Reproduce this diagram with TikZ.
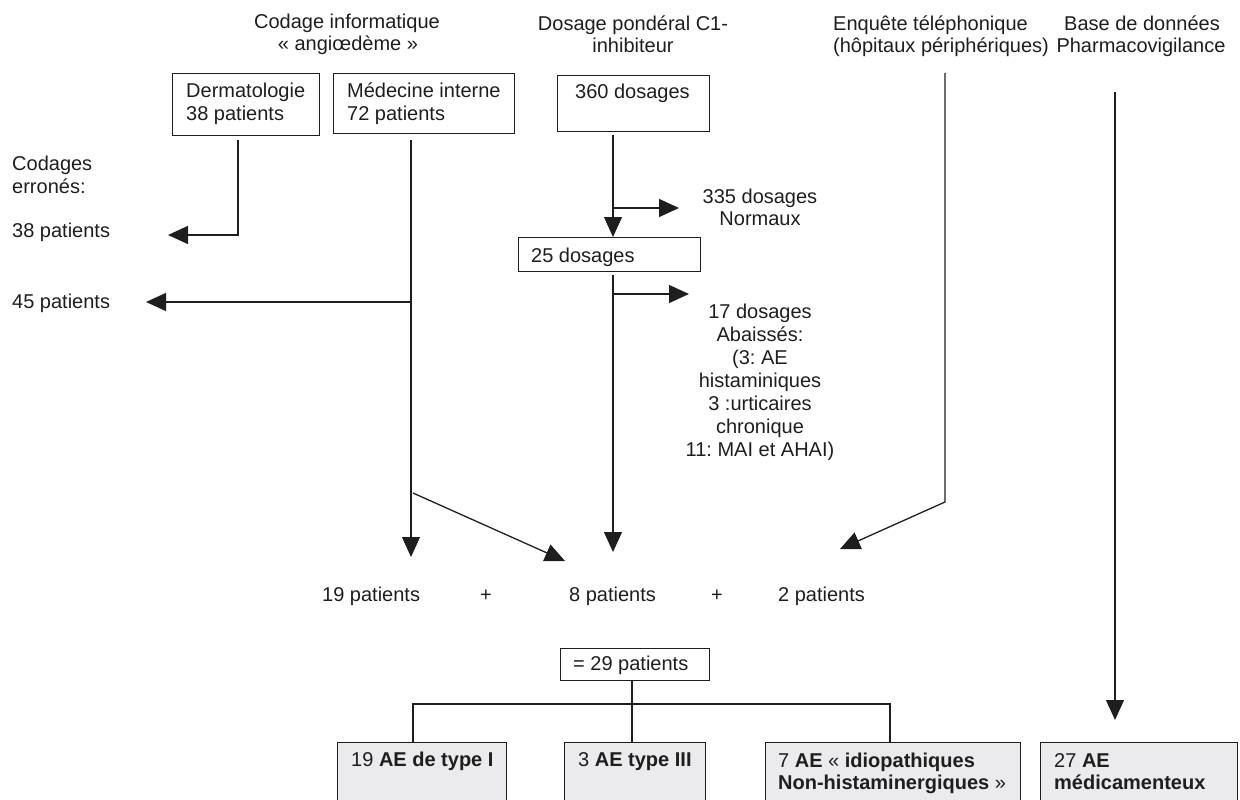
\documentclass[tikz,border=0pt]{standalone}
\usepackage{fontspec}
\setmainfont{Liberation Sans}
\usetikzlibrary{arrows.meta,calc}
\definecolor{ink}{HTML}{1E1E1E}
\definecolor{boxgray}{HTML}{EBEBED}
\frenchspacing
\begin{document}
\begin{tikzpicture}[x=1pt,y=-1pt,
  lbl/.style={inner sep=0pt, anchor=base west, text=ink, font=\fontsize{20}{23}\selectfont},
  lblc/.style={lbl, anchor=base},
  box/.style={draw=ink, line width=1.3pt, anchor=north west, inner sep=0pt},
  graybox/.style={box, fill=boxgray},
  conn/.style={draw=ink, line width=1.3pt},
  arr/.style={conn, -{Triangle[length=20pt,width=18pt]}}]
\useasboundingbox (0,0) rectangle (1240,800);
\clip (0,0) rectangle (1240,800);

% headers
\node[lblc] (h1a) at (347,29) {Codage informatique};
\node[lblc] (h1b) at (348,51) {« angiœdème »};
\node[lblc] (h2a) at (633,31) {Dosage pondéral C1-};
\node[lblc] (h2b) at (633,53) {inhibiteur};
\node[lbl] (h3a) at (833,31) {Enquête téléphonique};
\node[lbl] (h3b) at (833,53) {(hôpitaux périphériques)};
\node[lblc] (h4a) at (1142,31) {Base de données};
\node[lblc] (h4b) at (1141,53) {Pharmacovigilance};

% boxes
\node[box, minimum width=147pt, minimum height=62pt] (derm) at (172,73) {};
\node[box, minimum width=181pt, minimum height=60pt] (med) at (333,73) {};
\node[box, minimum width=152pt, minimum height=56pt] (c1b) at (557,75) {};
\node[box, minimum width=182pt, minimum height=34pt] (b25) at (518,237) {};
\node[box, minimum width=149pt, minimum height=32pt] (b29) at (560,648) {};
\node[graybox, minimum width=169pt, minimum height=90pt] (r1) at (337,742) {};
\node[graybox, minimum width=141pt, minimum height=90pt] (r2) at (564,742) {};
\node[graybox, minimum width=255pt, minimum height=90pt] (r3) at (765,742) {};
\node[graybox, minimum width=197pt, minimum height=90pt] (r4) at (1040,742) {};

% box texts
\node[lbl] (dermT1) at ($(derm.north west)+(14,25)$) {Dermatologie};
\node[lbl] (dermT2) at ($(derm.north west)+(14,48)$) {38 patients};
\node[lbl] (medT1) at ($(med.north west)+(14,25)$) {Médecine interne};
\node[lbl] (medT2) at ($(med.north west)+(14,48)$) {72 patients};
\node[lbl] (c1T) at ($(c1b.north west)+(18,24)$) {360 dosages};
\node[lbl] (b25T) at ($(b25.north west)+(13,25)$) {25 dosages};
\node[lbl] (b29T) at ($(b29.north west)+(13,22)$) {= 29 patients};
\node[lbl] (r1T) at ($(r1.north west)+(14,24)$) {19 \textbf{AE de type I}};
\node[lbl] (r2T) at ($(r2.north west)+(14,24)$) {3 \textbf{AE type III}};
\node[lbl] (r3T1) at ($(r3.north west)+(13,25)$) {7 \textbf{AE} « \textbf{idiopathiques}};
\node[lbl] (r3T2) at ($(r3.north west)+(13,47)$) {\textbf{Non-histaminergiques} »};
\node[lbl] (r4T1) at ($(r4.north west)+(14,25)$) {27 \textbf{AE}};
\node[lbl] (r4T2) at ($(r4.north west)+(14,47)$) {\textbf{médicamenteux}};

% left texts
\node[lbl] (cod1) at (12,170) {Codages};
\node[lbl] (cod2) at (12,193) {erronés:};
\node[lbl] (p38) at (12,237) {38 patients};
\node[lbl] (p45) at (12,308) {45 patients};

% middle texts
\node[lblc] (n335a) at (760,203) {335 dosages};
\node[lblc] (n335b) at (760,225) {Normaux};
\node[lblc] (n171) at (760,318) {17 dosages};
\node[lblc] (n172) at (760,341) {Abaissés:};
\node[lblc] (n173) at (760,364) {(3: AE};
\node[lblc] (n174) at (760,387) {histaminiques};
\node[lblc] (n175) at (760,410) {3 :urticaires};
\node[lblc] (n176) at (760,433) {chronique};
\node[lblc] (n177) at (760,456) {11: MAI et AHAI)};

\node[lbl] (p19) at (322,601) {19 patients};
\node[lblc] (plus1) at (486,601) {+};
\node[lbl] (p8) at (569,601) {8 patients};
\node[lblc] (plus2) at (717,601) {+};
\node[lbl] (p2) at (778,601) {2 patients};

% connector points
\coordinate (dA) at (238,140);
\coordinate (dB) at (238,235);
\coordinate (dC) at (168,235);
\coordinate (mA) at (411,140);
\coordinate (mB) at (411,557);
\coordinate (mH) at (411,302);
\coordinate (mHe) at (146,302);
\coordinate (mD) at (413,493);
\coordinate (mDe) at (565,561);
\coordinate (cA) at (613,135);
\coordinate (cH) at (613,208);
\coordinate (cHe) at (679,208);
\coordinate (cC) at (613,275);
\coordinate (cD) at (613,552);
\coordinate (cH2) at (613,294);
\coordinate (cH2e) at (689,294);
\coordinate (eA) at (945,73);
\coordinate (eB) at (945,502);
\coordinate (eC) at (840,549);
\coordinate (pA) at (1115,92);
\coordinate (pB) at (1115,720);
\coordinate (st) at (632,704);
\coordinate (t1) at (413,704);
\coordinate (t3) at (890,704);

\draw[arr] (dA) -- (dB) -- (dC);
\draw[arr] (mA) -- (mB);
\draw[arr] (mH) -- (mHe);
\draw[arr] (mD) -- (mDe);
\draw[arr] (cA) -- (b25.north -| cA);
\draw[arr] (cH) -- (cHe);
\draw[arr] (cC) -- (cD);
\draw[arr] (cH2) -- (cH2e);
\draw[arr] (eA) -- (eB) -- (eC);
\draw[arr] (pA) -- (pB);

\draw[conn] (b29.south -| st) -- (st) -- (r2.north -| st);
\draw[conn] (r1.north -| t1) -- (t1) -- (t3) -- (r3.north -| t3);
\end{tikzpicture}
\end{document}
